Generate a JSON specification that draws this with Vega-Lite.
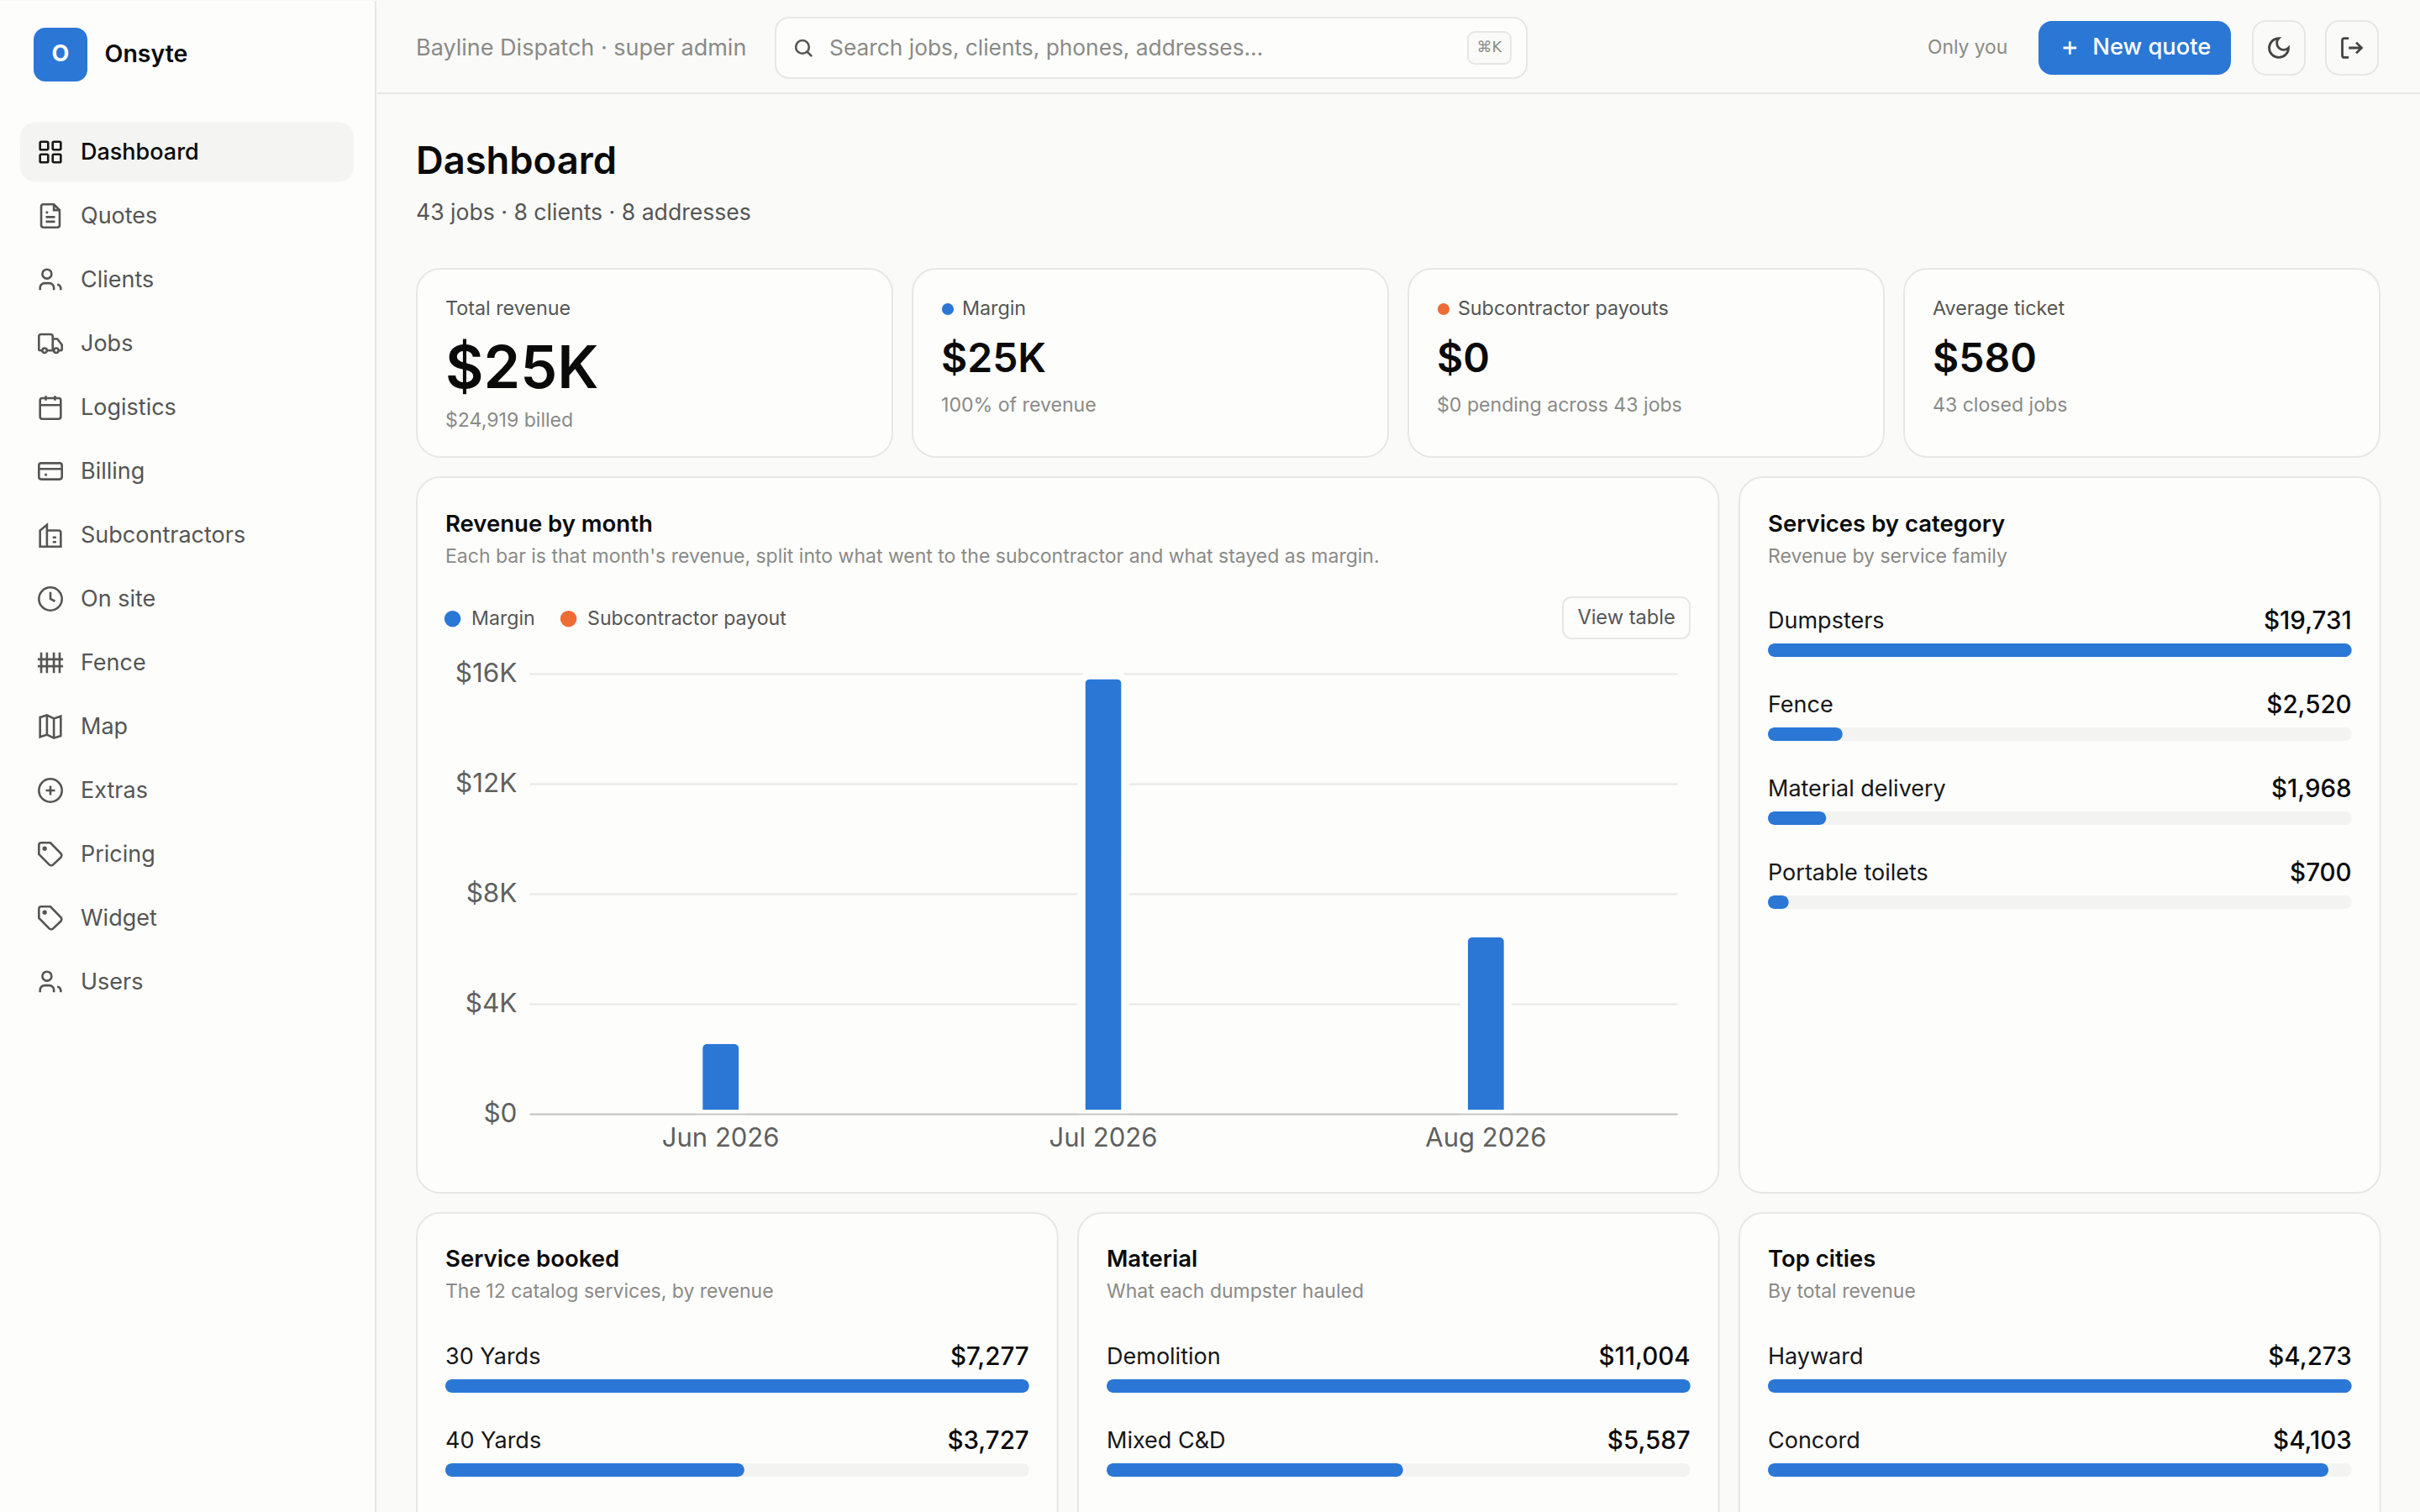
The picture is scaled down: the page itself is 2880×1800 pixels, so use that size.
{
  "$schema": "https://vega.github.io/schema/vega-lite/v6.json",
  "background": "#fafaf9",
  "padding": 0,
  "spacing": 0,
  "config": {
    "font": "Inter",
    "view": {"fill": "#fdfdfc", "stroke": "#e7e7e5", "strokeWidth": 2, "cornerRadius": 28},
    "scale": {"pointPadding": 0},
    "text": {"align": "left", "baseline": "middle"},
    "style": {
      "cardTitle": {"fontSize": 27.5, "fontWeight": 600, "color": "#0a0a0a"},
      "cardSub": {"fontSize": 23, "color": "#8a8a86"},
      "rowLabel": {"fontSize": 27, "color": "#161616"},
      "rowValue": {"fontSize": 29.5, "fontWeight": 500, "color": "#0a0a0a", "align": "right"},
      "kpiLabel": {"fontSize": 23.3, "color": "#555553"},
      "kpiValue": {"fontSize": 48, "fontWeight": 600, "color": "#0a0a0a"},
      "kpiNote": {"fontSize": 23.1, "color": "#8a8a86"},
      "nav": {"fontSize": 27, "color": "#555553", "dy": 1},
      "chipText": {"align": "center"}
    }
  },
  "hconcat": [
    {
      "width": 448,
      "height": 1800,
      "view": {"fill": "#fdfdfc", "stroke": null, "cornerRadius": 0},
      "resolve": {"scale": {"x": "independent", "y": "independent"}},
      "layer": [
        {
          "data": {"values": [{"logo": "O", "brand": "Onsyte"}]},
          "encoding": {
            "x": {"datum": 0, "type": "quantitative", "scale": {"domain": [0, 1], "range": [40, 104]}, "axis": null},
            "y": {"datum": 0, "type": "quantitative", "scale": {"domain": [0, 1], "range": [32, 96]}, "axis": null}
          },
          "layer": [
            {"mark": {"type": "rect", "fill": "#2a77d6", "cornerRadius": 14}, "encoding": {"x2": {"datum": 1}, "y2": {"datum": 1}}},
            {"mark": {"type": "text", "align": "center", "fontSize": 27, "fontWeight": 700, "color": "#ffffff"}, "encoding": {"x": {"datum": 0.5, "type": "quantitative"}, "y": {"datum": 0.5, "type": "quantitative"}, "text": {"field": "logo"}}},
            {"mark": {"type": "text", "fontSize": 28.5, "fontWeight": 600, "color": "#0a0a0a"}, "encoding": {"x": {"datum": 1.32, "type": "quantitative"}, "y": {"datum": 0.5, "type": "quantitative"}, "text": {"field": "brand"}}}
          ]
        },
        {
          "data": {"values": [
            {"label": "Dashboard"}, {"label": "Quotes"}, {"label": "Clients"}, {"label": "Jobs"}, {"label": "Logistics"},
            {"label": "Billing"}, {"label": "Subcontractors"}, {"label": "On site"}, {"label": "Fence"}, {"label": "Map"},
            {"label": "Extras"}, {"label": "Pricing"}, {"label": "Widget"}, {"label": "Users"}
          ]},
          "encoding": {
            "x": {"datum": 1, "type": "quantitative", "scale": {"domain": [0, 1], "range": [60, 96]}, "axis": null},
            "y": {"field": "label", "type": "nominal", "scale": {"type": "point", "domain": ["Dashboard", "Quotes", "Clients", "Jobs", "Logistics", "Billing", "Subcontractors", "On site", "Fence", "Map", "Extras", "Pricing", "Widget", "Users"], "range": [180, 1168]}, "axis": null}
          },
          "layer": [
            {"mark": {"type": "rule", "color": "#e7e7e5", "strokeWidth": 2}, "transform": [{"filter": "datum.label === 'Dashboard'"}], "encoding": {"x": {"datum": 10.75, "type": "quantitative"}, "y": null}},
            {"mark": {"type": "bar", "height": 71, "cornerRadius": 18, "color": "#f4f4f2"}, "transform": [{"filter": "datum.label === 'Dashboard'"}], "encoding": {"x": {"datum": -1, "type": "quantitative"}, "x2": {"datum": 10.03}}},
            {
              "mark": {"type": "point", "filled": false, "size": 7.5, "strokeWidth": 2.6, "opacity": 1},
              "encoding": {
                "x": {"datum": 0, "type": "quantitative"},
                "color": {"condition": {"test": "datum.label === 'Dashboard'", "value": "#161616"}, "value": "#555553"},
                "shape": {"field": "label", "type": "nominal", "legend": null, "scale": {
                  "domain": ["Dashboard", "Quotes", "Clients", "Jobs", "Logistics", "Billing", "Subcontractors", "On site", "Fence", "Map", "Extras", "Pricing", "Widget", "Users"],
                  "range": [
                    "M-8 -9H-3a1 1 0 0 1 1 1V-3a1 1 0 0 1 -1 1H-8a1 1 0 0 1 -1 -1V-8a1 1 0 0 1 1 -1Z M3 -9H8a1 1 0 0 1 1 1V-3a1 1 0 0 1 -1 1H3a1 1 0 0 1 -1 -1V-8a1 1 0 0 1 1 -1Z M3 2H8a1 1 0 0 1 1 1V8a1 1 0 0 1 -1 1H3a1 1 0 0 1 -1 -1V3a1 1 0 0 1 1 -1Z M-8 2H-3a1 1 0 0 1 1 1V8a1 1 0 0 1 -1 1H-8a1 1 0 0 1 -1 -1V3a1 1 0 0 1 1 -1Z",
                    "M3 -10H-6a2 2 0 0 0 -2 2V8a2 2 0 0 0 2 2H6a2 2 0 0 0 2 -2V-5Z M3 -10V-5H8 M-4 -3H-2 M-4 1H4 M-4 5H4",
                    "M-9 9V7a4 4 0 0 1 4 -4H-1a4 4 0 0 1 4 4V9 M-3 -9a4 4 0 1 0 0 8a4 4 0 1 0 0 -8Z M9 9V7a4 4 0 0 0 -3 -3",
                    "M2 6V-6a2 2 0 0 0 -2 -2H-8a2 2 0 0 0 -2 2V5a1 1 0 0 0 1 1H-7 M3 6H-3 M7 6H9a1 1 0 0 0 1 -1V1L6 -4H2 M5 4a2 2 0 1 0 0 4a2 2 0 1 0 0 -4Z M-5 4a2 2 0 1 0 0 4a2 2 0 1 0 0 -4Z",
                    "M-4 -10V-6 M4 -10V-6 M-7 -8H7a2 2 0 0 1 2 2V8a2 2 0 0 1 -2 2H-7a2 2 0 0 1 -2 -2V-6a2 2 0 0 1 2 -2Z M-9 -2H9",
                    "M-8 -7H8a2 2 0 0 1 2 2V5a2 2 0 0 1 -2 2H-8a2 2 0 0 1 -2 -2V-5a2 2 0 0 1 2 -2Z M-10 -2H10 M-5 3H-3",
                    "M-9 10V-4L-3 -9V10 M-3 -4H7a2 2 0 0 1 2 2V10 M-10 10H10 M-6 -1H-6 M-6 4H-6 M2 2H5 M2 6H5",
                    "M0 -10a10 10 0 1 0 0 20a10 10 0 1 0 0 -20Z M0 -6V0L4 2",
                    "M-8 -9V9 M-3 -9V9 M3 -9V9 M8 -9V9 M-11 -3H11 M-11 3H11",
                    "M-9 -8L-3 -10L3 -7L9 -9V8L3 10L-3 7L-9 9Z M-3 -10V7 M3 -7V10",
                    "M0 -10a10 10 0 1 0 0 20a10 10 0 1 0 0 -20Z M-4 0H4 M0 -4V4",
                    "M0 -10H-8a2 2 0 0 0 -2 2V0L-1 9a2.4 2.4 0 0 0 3.4 0L9 2.7a2.4 2.4 0 0 0 0 -3.4Z M-5 -6a1 1 0 1 0 0 2a1 1 0 1 0 0 -2Z",
                    "M0 -10H-8a2 2 0 0 0 -2 2V0L-1 9a2.4 2.4 0 0 0 3.4 0L9 2.7a2.4 2.4 0 0 0 0 -3.4Z M-5 -6a1 1 0 1 0 0 2a1 1 0 1 0 0 -2Z",
                    "M-9 9V7a4 4 0 0 1 4 -4H-1a4 4 0 0 1 4 4V9 M-3 -9a4 4 0 1 0 0 8a4 4 0 1 0 0 -8Z M9 9V7a4 4 0 0 0 -3 -3"
                  ]
                }}
              }
            },
            {"mark": {"type": "text", "style": "nav"}, "transform": [{"filter": "datum.label !== 'Dashboard'"}], "encoding": {"text": {"field": "label"}}},
            {"mark": {"type": "text", "fontSize": 27, "fontWeight": 500, "color": "#0a0a0a", "dy": 1}, "transform": [{"filter": "datum.label === 'Dashboard'"}], "encoding": {"text": {"field": "label"}}}
          ]
        }
      ]
    },
    {
      "spacing": 0,
      "vconcat": [
        {
          "width": 2432,
          "height": 313,
          "view": {"fill": null, "stroke": null},
          "resolve": {"scale": {"x": "independent", "y": "independent"}},
          "layer": [
            {
              "data": {"values": [{"text": "Bayline Dispatch · super admin"}]},
              "mark": {"type": "rule", "color": "#e7e7e5", "strokeWidth": 2},
              "encoding": {"y": {"datum": 1, "type": "quantitative", "scale": {"domain": [0, 1], "range": [0, 110]}, "axis": null}}
            },
            {
              "data": {"values": [{"text": "Bayline Dispatch · super admin"}]},
              "mark": {"type": "text", "fontSize": 27, "color": "#8a8a86", "dy": 1},
              "encoding": {
                "x": {"datum": 0, "type": "quantitative", "scale": {"domain": [0, 1], "range": [46, 472]}, "axis": null},
                "y": {"datum": 0.5, "type": "quantitative", "scale": {"domain": [0, 1], "range": [20, 92]}, "axis": null},
                "text": {"field": "text"}
              }
            },
            {
              "data": {"values": [{"line": "heading", "text": "Dashboard"}, {"line": "count", "text": "43 jobs · 8 clients · 8 addresses"}]},
              "encoding": {
                "x": {"datum": 0, "type": "quantitative", "scale": {"domain": [0, 1], "range": [46, 472]}, "axis": null},
                "y": {"field": "line", "type": "nominal", "scale": {"type": "point", "domain": ["heading", "count"], "range": [192, 253]}, "axis": null},
                "text": {"field": "text"}
              },
              "layer": [
                {"mark": {"type": "text", "fontSize": 45.3, "fontWeight": 600, "color": "#0a0a0a"}, "transform": [{"filter": "datum.line === 'heading'"}]},
                {"mark": {"type": "text", "fontSize": 26.6, "color": "#555553"}, "transform": [{"filter": "datum.line === 'count'"}]}
              ]
            },
            {
              "data": {"values": [{"text": "Search jobs, clients, phones, addresses…"}]},
              "encoding": {
                "x": {"datum": 0, "type": "quantitative", "scale": {"domain": [0, 1], "range": [474, 1368]}, "axis": null},
                "y": {"datum": 0, "type": "quantitative", "scale": {"domain": [0, 1], "range": [20, 92]}, "axis": null}
              },
              "layer": [
                {"mark": {"type": "rect", "fill": "#fdfdfc", "stroke": "#e7e7e5", "strokeWidth": 2, "cornerRadius": 16}, "encoding": {"x2": {"datum": 1}, "y2": {"datum": 1}}},
                {"mark": {"type": "point", "filled": false, "size": 5, "strokeWidth": 2.6, "color": "#555553", "opacity": 1, "shape": "M-1 -8a7 7 0 1 0 0 14a7 7 0 1 0 0 -14Z M9 9L4 4"}, "encoding": {"x": {"datum": 0.037, "type": "quantitative"}, "y": {"datum": 0.5, "type": "quantitative"}}},
                {"mark": {"type": "text", "fontSize": 26.3, "color": "#8a8a86", "dy": 1}, "encoding": {"x": {"datum": 0.0717, "type": "quantitative"}, "y": {"datum": 0.5, "type": "quantitative"}, "text": {"field": "text"}}}
              ]
            },
            {
              "data": {"values": [{"text": "⌘K"}]},
              "encoding": {
                "x": {"datum": 0, "type": "quantitative", "scale": {"domain": [0, 1], "range": [1298, 1349]}, "axis": null},
                "y": {"datum": 0, "type": "quantitative", "scale": {"domain": [0, 1], "range": [37, 75]}, "axis": null}
              },
              "layer": [
                {"mark": {"type": "rect", "fill": "#fafaf9", "stroke": "#e7e7e5", "strokeWidth": 2, "cornerRadius": 8}, "encoding": {"x2": {"datum": 1}, "y2": {"datum": 1}}},
                {"mark": {"type": "text", "style": "chipText", "fontSize": 18, "color": "#8a8a86", "font": "DejaVu Sans"}, "encoding": {"x": {"datum": 0.5, "type": "quantitative"}, "y": {"datum": 0.5, "type": "quantitative"}, "text": {"field": "text"}}}
              ]
            },
            {
              "data": {"values": [{"text": "Only you"}]},
              "mark": {"type": "text", "fontSize": 22.8, "color": "#8a8a86"},
              "encoding": {
                "x": {"datum": 0, "type": "quantitative", "scale": {"domain": [0, 1], "range": [1845, 1976]}, "axis": null},
                "y": {"datum": 0.5, "type": "quantitative", "scale": {"domain": [0, 1], "range": [24, 88]}, "axis": null},
                "text": {"field": "text"}
              }
            },
            {
              "data": {"values": [{"text": "New quote"}]},
              "encoding": {
                "x": {"datum": 0, "type": "quantitative", "scale": {"domain": [0, 1], "range": [1977, 2206]}, "axis": null},
                "y": {"datum": 0, "type": "quantitative", "scale": {"domain": [0, 1], "range": [24, 88]}, "axis": null}
              },
              "layer": [
                {"mark": {"type": "rect", "fill": "#2a77d6", "cornerRadius": 16}, "encoding": {"x2": {"datum": 1}, "y2": {"datum": 1}}},
                {"mark": {"type": "point", "filled": false, "size": 5, "strokeWidth": 2.8, "color": "#ffffff", "opacity": 1, "shape": "M-7 0H7 M0 -7V7"}, "encoding": {"x": {"datum": 0.163, "type": "quantitative"}, "y": {"datum": 0.5, "type": "quantitative"}}},
                {"mark": {"type": "text", "fontSize": 27.3, "fontWeight": 500, "color": "#ffffff"}, "encoding": {"x": {"datum": 0.281, "type": "quantitative"}, "y": {"datum": 0.5, "type": "quantitative"}, "text": {"field": "text"}}}
              ]
            },
            {
              "data": {"values": [{"icon": "moon"}]},
              "encoding": {
                "x": {"datum": 0, "type": "quantitative", "scale": {"domain": [0, 1], "range": [2232, 2294]}, "axis": null},
                "y": {"datum": 0, "type": "quantitative", "scale": {"domain": [0, 1], "range": [24, 88]}, "axis": null}
              },
              "layer": [
                {"mark": {"type": "rect", "fill": "#fafaf9", "stroke": "#e7e7e5", "strokeWidth": 2, "cornerRadius": 16}, "encoding": {"x2": {"datum": 1}, "y2": {"datum": 1}}},
                {"mark": {"type": "point", "filled": false, "size": 6.5, "strokeWidth": 2.8, "color": "#444442", "opacity": 1, "shape": "M0 -9a6 6 0 0 0 9 9a9 9 0 1 1 -9 -9Z"}, "encoding": {"x": {"datum": 0.5, "type": "quantitative"}, "y": {"datum": 0.5, "type": "quantitative"}}}
              ]
            },
            {
              "data": {"values": [{"icon": "logout"}]},
              "encoding": {
                "x": {"datum": 0, "type": "quantitative", "scale": {"domain": [0, 1], "range": [2319, 2381]}, "axis": null},
                "y": {"datum": 0, "type": "quantitative", "scale": {"domain": [0, 1], "range": [24, 88]}, "axis": null}
              },
              "layer": [
                {"mark": {"type": "rect", "fill": "#fafaf9", "stroke": "#e7e7e5", "strokeWidth": 2, "cornerRadius": 16}, "encoding": {"x2": {"datum": 1}, "y2": {"datum": 1}}},
                {"mark": {"type": "point", "filled": false, "size": 6.5, "strokeWidth": 2.8, "color": "#444442", "opacity": 1, "shape": "M-3 9H-7a2 2 0 0 1 -2 -2V-7a2 2 0 0 1 2 -2H-3 M4 5L9 0L4 -5 M9 0H-3"}, "encoding": {"x": {"datum": 0.5, "type": "quantitative"}, "y": {"datum": 0.5, "type": "quantitative"}}}
              ]
            }
          ]
        },
        {
          "spacing": 24,
          "hconcat": [
            {
              "width": 22,
              "height": 1,
              "view": {"fill": null, "stroke": null},
              "data": {"values": [{"text": ""}]},
              "mark": "text",
              "encoding": {"text": {"field": "text"}}
            },
            {
              "spacing": 22,
              "vconcat": [
                {
                  "spacing": 24,
                  "bounds": "flush",
                  "hconcat": [
                    {
                      "width": 566,
                      "height": 224,
                      "data": {"values": [{"label": "Total revenue", "value": "$25K", "note": "$24,919 billed"}]},
                      "encoding": {
                        "x": {"datum": 0, "type": "quantitative", "scale": {"domain": [0, 1], "range": [34, 532]}, "axis": null}
                      },
                      "layer": [
                        {"mark": {"type": "text", "style": "kpiLabel"}, "encoding": {"y": {"datum": "label", "type": "nominal", "scale": {"type": "point", "domain": ["label", "value", "note"], "range": [48, 181]}, "axis": null}, "text": {"field": "label"}}},
                        {"mark": {"type": "text", "style": "kpiValue", "fontSize": 70, "dy": 6}, "encoding": {"y": {"datum": "value", "type": "nominal"}, "text": {"field": "value"}}},
                        {"mark": {"type": "text", "style": "kpiNote"}, "encoding": {"y": {"datum": "note", "type": "nominal"}, "text": {"field": "note"}}}
                      ]
                    },
                    {
                      "width": 566,
                      "height": 224,
                      "data": {"values": [{"label": "Margin", "value": "$25K", "note": "100% of revenue"}]},
                      "encoding": {
                        "x": {"datum": 0, "type": "quantitative", "scale": {"domain": [0, 1], "range": [34, 532]}, "axis": null}
                      },
                      "layer": [
                        {"mark": {"type": "point", "filled": true, "size": 200, "color": "#2a77d6", "opacity": 1}, "encoding": {"x": {"datum": 0.016, "type": "quantitative"}, "y": {"datum": "label", "type": "nominal", "scale": {"type": "point", "domain": ["label", "value", "note"], "range": [48, 163]}, "axis": null}}},
                        {"mark": {"type": "text", "style": "kpiLabel"}, "encoding": {"x": {"datum": 0.05, "type": "quantitative"}, "y": {"datum": "label", "type": "nominal"}, "text": {"field": "label"}}},
                        {"mark": {"type": "text", "style": "kpiValue", "dy": 3}, "encoding": {"y": {"datum": "value", "type": "nominal"}, "text": {"field": "value"}}},
                        {"mark": {"type": "text", "style": "kpiNote"}, "encoding": {"y": {"datum": "note", "type": "nominal"}, "text": {"field": "note"}}}
                      ]
                    },
                    {
                      "width": 566,
                      "height": 224,
                      "data": {"values": [{"label": "Subcontractor payouts", "value": "$0", "note": "$0 pending across 43 jobs"}]},
                      "encoding": {
                        "x": {"datum": 0, "type": "quantitative", "scale": {"domain": [0, 1], "range": [34, 532]}, "axis": null}
                      },
                      "layer": [
                        {"mark": {"type": "point", "filled": true, "size": 200, "color": "#ee6c35", "opacity": 1}, "encoding": {"x": {"datum": 0.016, "type": "quantitative"}, "y": {"datum": "label", "type": "nominal", "scale": {"type": "point", "domain": ["label", "value", "note"], "range": [48, 163]}, "axis": null}}},
                        {"mark": {"type": "text", "style": "kpiLabel"}, "encoding": {"x": {"datum": 0.05, "type": "quantitative"}, "y": {"datum": "label", "type": "nominal"}, "text": {"field": "label"}}},
                        {"mark": {"type": "text", "style": "kpiValue", "dy": 3}, "encoding": {"y": {"datum": "value", "type": "nominal"}, "text": {"field": "value"}}},
                        {"mark": {"type": "text", "style": "kpiNote"}, "encoding": {"y": {"datum": "note", "type": "nominal"}, "text": {"field": "note"}}}
                      ]
                    },
                    {
                      "width": 566,
                      "height": 224,
                      "data": {"values": [{"label": "Average ticket", "value": "$580", "note": "43 closed jobs"}]},
                      "encoding": {
                        "x": {"datum": 0, "type": "quantitative", "scale": {"domain": [0, 1], "range": [34, 532]}, "axis": null}
                      },
                      "layer": [
                        {"mark": {"type": "text", "style": "kpiLabel"}, "encoding": {"y": {"datum": "label", "type": "nominal", "scale": {"type": "point", "domain": ["label", "value", "note"], "range": [48, 163]}, "axis": null}, "text": {"field": "label"}}},
                        {"mark": {"type": "text", "style": "kpiValue", "dy": 3}, "encoding": {"y": {"datum": "value", "type": "nominal"}, "text": {"field": "value"}}},
                        {"mark": {"type": "text", "style": "kpiNote"}, "encoding": {"y": {"datum": "note", "type": "nominal"}, "text": {"field": "note"}}}
                      ]
                    }
                  ]
                },
                {
                  "spacing": 24,
                  "bounds": "flush",
                  "hconcat": [
                    {
                      "width": 1549.33,
                      "height": 852,
                      "resolve": {"scale": {"x": "independent", "y": "independent"}},
                      "layer": [
                        {
                          "data": {"values": [{"part": "title", "text": "Revenue by month"}, {"part": "subtitle", "text": "Each bar is that month's revenue, split into what went to the subcontractor and what stayed as margin."}]},
                          "encoding": {
                            "x": {"datum": 0, "type": "quantitative", "scale": {"domain": [0, 1], "range": [34, 1515]}, "axis": null},
                            "y": {"field": "part", "type": "nominal", "scale": {"type": "point", "domain": ["title", "subtitle"], "range": [57, 95]}, "axis": null},
                            "text": {"field": "text"}
                          },
                          "layer": [
                            {"mark": {"type": "text", "style": "cardTitle"}, "transform": [{"filter": "datum.part === 'title'"}]},
                            {"mark": {"type": "text", "style": "cardSub"}, "transform": [{"filter": "datum.part === 'subtitle'"}]}
                          ]
                        },
                        {
                          "data": {"values": [{"text": "View table"}]},
                          "encoding": {
                            "x": {"datum": 0, "type": "quantitative", "scale": {"domain": [0, 1], "range": [1364, 1515]}, "axis": null},
                            "y": {"datum": 0, "type": "quantitative", "scale": {"domain": [0, 1], "range": [143, 192]}, "axis": null}
                          },
                          "layer": [
                            {"mark": {"type": "rect", "fill": "#fdfdfc", "stroke": "#e7e7e5", "strokeWidth": 2, "cornerRadius": 10}, "encoding": {"x2": {"datum": 1}, "y2": {"datum": 1}}},
                            {"mark": {"type": "text", "style": "chipText", "fontSize": 23.6, "color": "#555553"}, "encoding": {"x": {"datum": 0.5, "type": "quantitative"}, "y": {"datum": 0.5, "type": "quantitative"}, "text": {"field": "text"}}}
                          ]
                        },
                        {
                          "data": {"values": [
                            {"month": "Jun 2026", "part": "Margin", "amount": 2680},
                            {"month": "Jul 2026", "part": "Margin", "amount": 15940},
                            {"month": "Aug 2026", "part": "Margin", "amount": 6560},
                            {"month": "Jun 2026", "part": "Subcontractor payout", "amount": 0},
                            {"month": "Jul 2026", "part": "Subcontractor payout", "amount": 0},
                            {"month": "Aug 2026", "part": "Subcontractor payout", "amount": 0}
                          ]},
                          "mark": {"type": "bar", "width": 52, "stroke": "#fdfdfc", "strokeWidth": 9, "cornerRadiusEnd": 10},
                          "encoding": {
                            "x": {
                              "field": "month", "type": "nominal",
                              "scale": {"type": "band", "domain": ["Jun 2026", "Jul 2026", "Aug 2026"], "range": [134, 1500], "padding": 0},
                              "axis": {"title": null, "orient": "bottom", "offset": -94, "labelAngle": 0, "labelFontSize": 31, "labelColor": "#60605d", "labelPadding": 14, "ticks": false, "domainColor": "#c6c6c2", "domainWidth": 2, "grid": false, "zindex": 1}
                            },
                            "y": {
                              "field": "amount", "type": "quantitative",
                              "scale": {"domain": [0, 16000], "range": [758, 234], "nice": false},
                              "axis": {"title": null, "offset": -134, "values": [0, 4000, 8000, 12000, 16000], "labelExpr": "datum.value === 0 ? '$0' : '$' + datum.value / 1000 + 'K'", "labelFontSize": 31.5, "labelColor": "#60605d", "labelPadding": 15, "ticks": false, "domain": false, "grid": true, "gridColor": "#e7e7e5", "gridWidth": 2, "encoding": {"labels": {"update": {"dy": {"signal": "datum.value === 16000 ? 8 : 0"}}}}}
                            },
                            "color": {
                              "field": "part", "type": "nominal",
                              "scale": {"domain": ["Margin", "Subcontractor payout"], "range": ["#2a77d6", "#ee6c35"]},
                              "legend": {"orient": "none", "legendX": 527, "legendY": 724, "direction": "horizontal", "title": null, "symbolType": "circle", "symbolSize": 380, "symbolStrokeWidth": 0, "labelFontSize": 23.1, "labelColor": "#555553", "labelLimit": 400, "columnPadding": 28, "labelOffset": 11}
                            }
                          }
                        }
                      ]
                    },
                    {
                      "width": 762.67,
                      "height": 852,
                      "resolve": {"scale": {"x": "independent", "y": "independent"}},
                      "layer": [
                        {
                          "data": {"values": [{"part": "title", "text": "Services by category"}, {"part": "subtitle", "text": "Revenue by service family"}]},
                          "encoding": {
                            "x": {"datum": 0, "type": "quantitative", "scale": {"domain": [0, 1], "range": [34, 728.67]}, "axis": null},
                            "y": {"field": "part", "type": "nominal", "scale": {"type": "point", "domain": ["title", "subtitle"], "range": [57, 95]}, "axis": null},
                            "text": {"field": "text"}
                          },
                          "layer": [
                            {"mark": {"type": "text", "style": "cardTitle"}, "transform": [{"filter": "datum.part === 'title'"}]},
                            {"mark": {"type": "text", "style": "cardSub"}, "transform": [{"filter": "datum.part === 'subtitle'"}]}
                          ]
                        },
                        {
                          "data": {"values": [{"name": "Dumpsters", "amount": 19731, "label": "$19,731"}, {"name": "Fence", "amount": 2520, "label": "$2,520"}, {"name": "Material delivery", "amount": 1968, "label": "$1,968"}, {"name": "Portable toilets", "amount": 700, "label": "$700"}]},
                          "encoding": {
                            "y": {"field": "name", "type": "nominal", "scale": {"type": "point", "domain": ["Dumpsters", "Fence", "Material delivery", "Portable toilets"], "range": [206, 506]}, "axis": null}
                          },
                          "layer": [
                            {"mark": {"type": "bar", "height": 16, "cornerRadius": 8, "color": "#f3f3f1"}, "encoding": {"x": {"datum": 0, "type": "quantitative", "scale": {"domain": [0, 19731], "range": [34, 728.67], "nice": false}, "axis": null}, "x2": {"datum": 19731}}},
                            {"mark": {"type": "bar", "height": 16, "cornerRadius": 8, "color": "#2a77d6"}, "encoding": {"x": {"field": "amount", "type": "quantitative", "stack": null}}},
                            {"mark": {"type": "text", "style": "rowLabel", "dy": -34}, "encoding": {"x": {"datum": 0, "type": "quantitative"}, "text": {"field": "name"}}},
                            {"mark": {"type": "text", "style": "rowValue", "dy": -34}, "encoding": {"x": {"datum": 19731, "type": "quantitative"}, "text": {"field": "label"}}}
                          ]
                        }
                      ]
                    }
                  ]
                },
                {
                  "spacing": 24,
                  "bounds": "flush",
                  "hconcat": [
                    {
                      "width": 762.67,
                      "height": 420,
                      "resolve": {"scale": {"x": "independent", "y": "independent"}},
                      "layer": [
                        {
                          "data": {"values": [{"part": "title", "text": "Service booked"}, {"part": "subtitle", "text": "The 12 catalog services, by revenue"}]},
                          "encoding": {
                            "x": {"datum": 0, "type": "quantitative", "scale": {"domain": [0, 1], "range": [34, 728.67]}, "axis": null},
                            "y": {"field": "part", "type": "nominal", "scale": {"type": "point", "domain": ["title", "subtitle"], "range": [56, 94]}, "axis": null},
                            "text": {"field": "text"}
                          },
                          "layer": [
                            {"mark": {"type": "text", "style": "cardTitle"}, "transform": [{"filter": "datum.part === 'title'"}]},
                            {"mark": {"type": "text", "style": "cardSub"}, "transform": [{"filter": "datum.part === 'subtitle'"}]}
                          ]
                        },
                        {
                          "data": {"values": [{"name": "30 Yards", "amount": 7277, "label": "$7,277"}, {"name": "40 Yards", "amount": 3727, "label": "$3,727"}]},
                          "encoding": {
                            "y": {"field": "name", "type": "nominal", "scale": {"type": "point", "domain": ["30 Yards", "40 Yards"], "range": [206, 306]}, "axis": null}
                          },
                          "layer": [
                            {"mark": {"type": "bar", "height": 16, "cornerRadius": 8, "color": "#f3f3f1"}, "encoding": {"x": {"datum": 0, "type": "quantitative", "scale": {"domain": [0, 7277], "range": [34, 728.67], "nice": false}, "axis": null}, "x2": {"datum": 7277}}},
                            {"mark": {"type": "bar", "height": 16, "cornerRadius": 8, "color": "#2a77d6"}, "encoding": {"x": {"field": "amount", "type": "quantitative", "stack": null}}},
                            {"mark": {"type": "text", "style": "rowLabel", "dy": -34}, "encoding": {"x": {"datum": 0, "type": "quantitative"}, "text": {"field": "name"}}},
                            {"mark": {"type": "text", "style": "rowValue", "dy": -34}, "encoding": {"x": {"datum": 7277, "type": "quantitative"}, "text": {"field": "label"}}}
                          ]
                        }
                      ]
                    },
                    {
                      "width": 762.67,
                      "height": 420,
                      "resolve": {"scale": {"x": "independent", "y": "independent"}},
                      "layer": [
                        {
                          "data": {"values": [{"part": "title", "text": "Material"}, {"part": "subtitle", "text": "What each dumpster hauled"}]},
                          "encoding": {
                            "x": {"datum": 0, "type": "quantitative", "scale": {"domain": [0, 1], "range": [34, 728.67]}, "axis": null},
                            "y": {"field": "part", "type": "nominal", "scale": {"type": "point", "domain": ["title", "subtitle"], "range": [56, 94]}, "axis": null},
                            "text": {"field": "text"}
                          },
                          "layer": [
                            {"mark": {"type": "text", "style": "cardTitle"}, "transform": [{"filter": "datum.part === 'title'"}]},
                            {"mark": {"type": "text", "style": "cardSub"}, "transform": [{"filter": "datum.part === 'subtitle'"}]}
                          ]
                        },
                        {
                          "data": {"values": [{"name": "Demolition", "amount": 11004, "label": "$11,004"}, {"name": "Mixed C&D", "amount": 5587, "label": "$5,587"}]},
                          "encoding": {
                            "y": {"field": "name", "type": "nominal", "scale": {"type": "point", "domain": ["Demolition", "Mixed C&D"], "range": [206, 306]}, "axis": null}
                          },
                          "layer": [
                            {"mark": {"type": "bar", "height": 16, "cornerRadius": 8, "color": "#f3f3f1"}, "encoding": {"x": {"datum": 0, "type": "quantitative", "scale": {"domain": [0, 11004], "range": [34, 728.67], "nice": false}, "axis": null}, "x2": {"datum": 11004}}},
                            {"mark": {"type": "bar", "height": 16, "cornerRadius": 8, "color": "#2a77d6"}, "encoding": {"x": {"field": "amount", "type": "quantitative", "stack": null}}},
                            {"mark": {"type": "text", "style": "rowLabel", "dy": -34}, "encoding": {"x": {"datum": 0, "type": "quantitative"}, "text": {"field": "name"}}},
                            {"mark": {"type": "text", "style": "rowValue", "dy": -34}, "encoding": {"x": {"datum": 11004, "type": "quantitative"}, "text": {"field": "label"}}}
                          ]
                        }
                      ]
                    },
                    {
                      "width": 762.67,
                      "height": 420,
                      "resolve": {"scale": {"x": "independent", "y": "independent"}},
                      "layer": [
                        {
                          "data": {"values": [{"part": "title", "text": "Top cities"}, {"part": "subtitle", "text": "By total revenue"}]},
                          "encoding": {
                            "x": {"datum": 0, "type": "quantitative", "scale": {"domain": [0, 1], "range": [34, 728.67]}, "axis": null},
                            "y": {"field": "part", "type": "nominal", "scale": {"type": "point", "domain": ["title", "subtitle"], "range": [56, 94]}, "axis": null},
                            "text": {"field": "text"}
                          },
                          "layer": [
                            {"mark": {"type": "text", "style": "cardTitle"}, "transform": [{"filter": "datum.part === 'title'"}]},
                            {"mark": {"type": "text", "style": "cardSub"}, "transform": [{"filter": "datum.part === 'subtitle'"}]}
                          ]
                        },
                        {
                          "data": {"values": [{"name": "Hayward", "amount": 4273, "label": "$4,273"}, {"name": "Concord", "amount": 4103, "label": "$4,103"}]},
                          "encoding": {
                            "y": {"field": "name", "type": "nominal", "scale": {"type": "point", "domain": ["Hayward", "Concord"], "range": [206, 306]}, "axis": null}
                          },
                          "layer": [
                            {"mark": {"type": "bar", "height": 16, "cornerRadius": 8, "color": "#f3f3f1"}, "encoding": {"x": {"datum": 0, "type": "quantitative", "scale": {"domain": [0, 4273], "range": [34, 728.67], "nice": false}, "axis": null}, "x2": {"datum": 4273}}},
                            {"mark": {"type": "bar", "height": 16, "cornerRadius": 8, "color": "#2a77d6"}, "encoding": {"x": {"field": "amount", "type": "quantitative", "stack": null}}},
                            {"mark": {"type": "text", "style": "rowLabel", "dy": -34}, "encoding": {"x": {"datum": 0, "type": "quantitative"}, "text": {"field": "name"}}},
                            {"mark": {"type": "text", "style": "rowValue", "dy": -34}, "encoding": {"x": {"datum": 4273, "type": "quantitative"}, "text": {"field": "label"}}}
                          ]
                        }
                      ]
                    }
                  ]
                }
              ]
            }
          ]
        }
      ]
    }
  ]
}
